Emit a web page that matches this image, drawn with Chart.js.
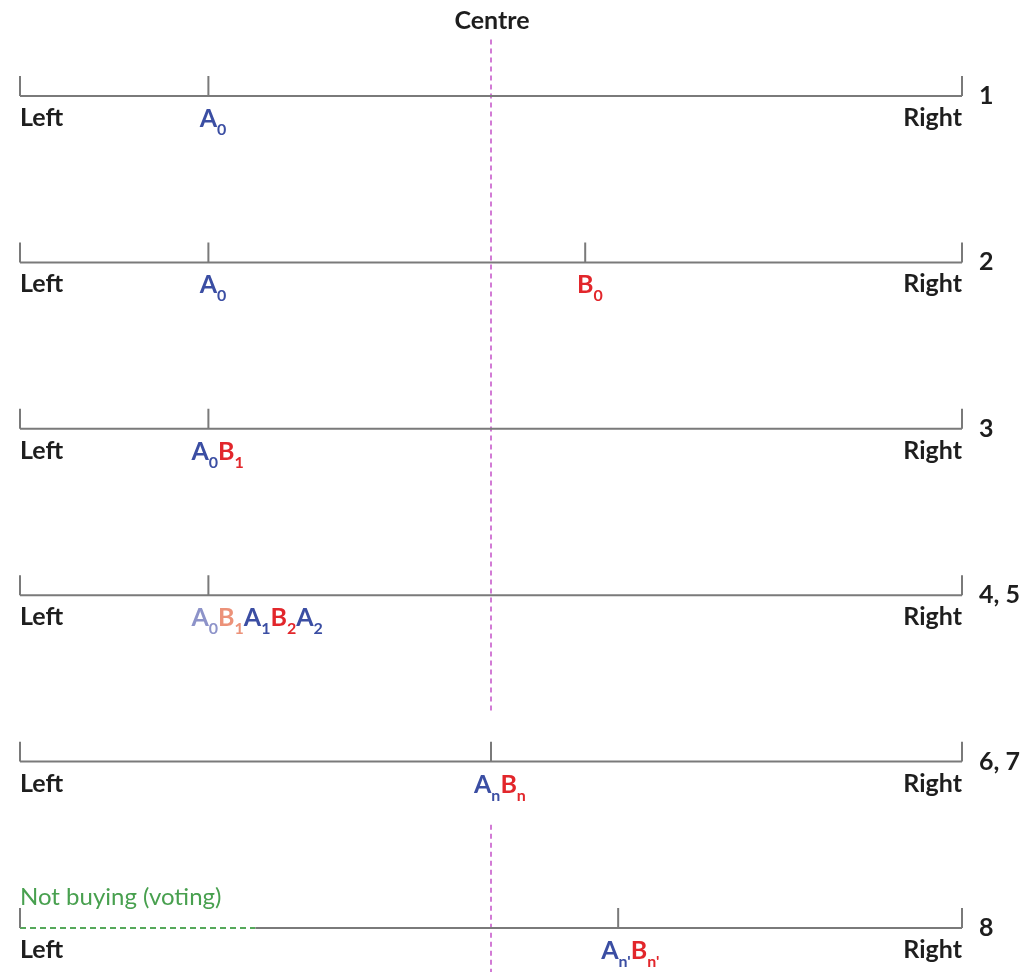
<!DOCTYPE html>
<html>
<head>
<meta charset="utf-8">
<script src="https://cdn.jsdelivr.net/npm/chart.js@4/dist/chart.umd.min.js"></script>
<style>
  html, body { margin: 0; padding: 0; background: #fff; }
  #wrap { width: 1033px; height: 972px; }
</style>
</head>
<body>
<div id="wrap"><canvas id="chart"></canvas></div>
<script>
// spectrum runs 0 (Left) .. 100 (Right); rows are the numbered stages
const rowNames = ['1', '2', '3', '4, 5', '6, 7', '8'];
const centre = 50;
const tickPos = [[20], [20, 60], [20], [20], [50], [63.5]];
const rowFirms = [
  [['A_0']],
  [['A_0'], ['B_0']],
  [['A_0', 'B_1']],
  [['A_0', 'B_1', 'A_1', 'B_2', 'A_2']],
  [['A_n', 'B_n']],
  [["A_n'", "B_n'"]]
];
const pastMoves = [[], [], [], ['A_0', 'B_1'], [], []];
const notBuyingEnd = 25;   // row 8: voters left of here stay home
const notBuyingText = 'Not buying (voting)';

const GREY = '#7a7a7a';
const COL = { A: '#3b4ea3', B: '#e2262b' };
const FADED = { A: '#8d93c9', B: '#ec9279' };
const FONT = 'Lato, "Open Sans", sans-serif';

const tickH = 0.12;     // tick height in row units
const datasets = [];

rowNames.forEach((r, i) => {
  const notBuying = i === rowNames.length - 1;
  datasets.push({ data: [{ x: notBuying ? notBuyingEnd : 0, y: i }, { x: 100, y: i }],
    borderColor: GREY, borderWidth: 2 });
  datasets.push({ data: [{ x: 0, y: i - tickH }, { x: 0, y: i }], borderColor: GREY, borderWidth: 2 });
  datasets.push({ data: [{ x: 100, y: i - tickH }, { x: 100, y: i }], borderColor: GREY, borderWidth: 2 });
  tickPos[i].forEach(p => {
    datasets.push({ data: [{ x: p, y: i - tickH }, { x: p, y: i }], borderColor: GREY, borderWidth: 2 });
  });
  if (notBuying) {
    datasets.push({ data: [{ x: 0, y: i }, { x: notBuyingEnd, y: i }],
      borderColor: '#55a85a', borderWidth: 2, borderDash: [6, 4] });
  }
});

// centre line, broken around the An Bn label
datasets.push({ data: [{ x: centre, y: -0.34 }, { x: centre, y: 3.7 }],
  borderColor: '#c350c8', borderWidth: 1.5, borderDash: [5, 4] });
datasets.push({ data: [{ x: centre, y: 4.38 }, { x: centre, y: 5.3 }],
  borderColor: '#c350c8', borderWidth: 1.5, borderDash: [5, 4] });

datasets.forEach(d => { d.showLine = true; d.pointRadius = 0; d.clip = false; d.fill = false; });

const labelPlugin = {
  id: 'labels',
  afterDatasetsDraw(chart) {
    const { ctx, scales: { x, y } } = chart;
    const big = 'bold 25px ' + FONT;
    const small = 'bold 16px ' + FONT;
    const text = 'bold 25px ' + FONT;
    ctx.save();
    ctx.textBaseline = 'alphabetic';

    ctx.fillStyle = '#1e1e1e';
    ctx.font = text;
    ctx.textAlign = 'center';
    ctx.fillText('Centre', x.getPixelForValue(centre) + 1, 29);

    rowNames.forEach((r, i) => {
      const yl = y.getPixelForValue(i);
      ctx.fillStyle = '#1e1e1e';
      ctx.font = text;
      ctx.textAlign = 'left';
      ctx.fillText('Left', x.getPixelForValue(0), yl + 30);
      ctx.textAlign = 'right';
      ctx.fillText('Right', x.getPixelForValue(100), yl + 30);
      ctx.textAlign = 'left';
      ctx.fillText(r, x.getPixelForValue(100) + 17, yl + 8);

      rowFirms[i].forEach((group, g) => {
        const px = x.getPixelForValue(tickPos[i][g]);
        ctx.font = big;
        let cx;
        if (group.length === 1) {
          cx = px - ctx.measureText(group[0][0]).width / 2;
        } else {
          cx = px - 17;
        }
        group.forEach(tok => {
          const [main, sub] = tok.split('_');
          const faded = pastMoves[i].includes(tok);
          ctx.fillStyle = (faded ? FADED : COL)[main];
          ctx.font = big;
          ctx.fillText(main, cx, yl + 31);
          cx += ctx.measureText(main).width;
          ctx.font = small;
          ctx.fillText(sub, cx, yl + 39);
          cx += ctx.measureText(sub).width;
        });
      });
    });

    ctx.fillStyle = '#48a04f';
    ctx.font = '24px ' + FONT;
    ctx.textAlign = 'left';
    ctx.fillText(notBuyingText, x.getPixelForValue(0), y.getPixelForValue(rowNames.length - 1) - 23);
    ctx.restore();
  }
};

new Chart(document.getElementById('chart'), {
  type: 'scatter',
  data: { datasets },
  options: {
    responsive: true,
    maintainAspectRatio: false,
    animation: false,
    layout: { padding: { left: 20, right: 71, top: 96, bottom: 44 } },
    plugins: { legend: { display: false }, tooltip: { enabled: false } },
    scales: {
      x: { type: 'linear', min: 0, max: 100, display: false },
      y: { type: 'linear', min: 0, max: 5, reverse: true, display: false }
    }
  },
  plugins: [labelPlugin]
});
</script>
</body>
</html>
